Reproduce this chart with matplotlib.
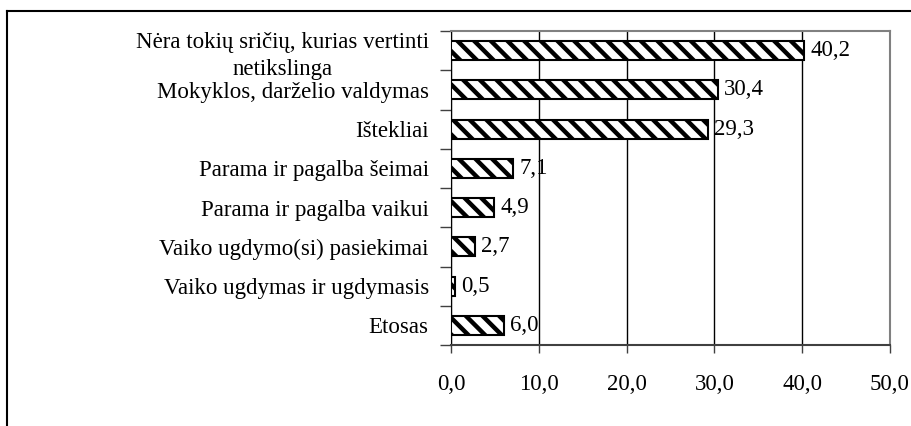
import matplotlib.pyplot as plt
from matplotlib.lines import Line2D
from matplotlib.ticker import FixedLocator
import numpy as np

plt.rcParams['font.family'] = ['Liberation Serif', 'DejaVu Serif']
plt.rcParams['hatch.linewidth'] = 3.2
plt.rcParams['hatch.color'] = 'black'

categories = [
    "Nėra tokių sričių, kurias vertinti\nnetikslinga",
    "Mokyklos, darželio valdymas",
    "Ištekliai",
    "Parama ir pagalba šeimai",
    "Parama ir pagalba vaikui",
    "Vaiko ugdymo(si) pasiekimai",
    "Vaiko ugdymas ir ugdymasis",
    "Etosas",
]
values = [40.2, 30.4, 29.3, 7.1, 4.9, 2.7, 0.5, 6.0]
xticks = [0, 10, 20, 30, 40, 50]

FS = 16.5

fig = plt.figure(figsize=(9.12, 4.26), dpi=100)
ax = fig.add_axes([451 / 912, 1 - 345 / 426, (890 - 451) / 912, (345 - 31) / 426])

y = np.arange(len(categories))
ax.barh(y, values, height=0.48, color='white', edgecolor='black',
        linewidth=1.5, hatch='\\\\', zorder=3)

for yi, v in zip(y, values):
    ax.text(v + 0.7, yi, f"{v:.1f}".replace('.', ','), va='center', ha='left',
            fontsize=FS, zorder=4)

ax.set_xlim(0, 50)
ax.set_ylim(len(categories) - 0.5, -0.5)

ax.set_xticks(xticks)
ax.set_xticklabels([f"{t:.1f}".replace('.', ',') for t in xticks], fontsize=FS)
ax.tick_params(axis='x', direction='out', length=6, width=1, pad=15, color='#404040')

ax.yaxis.set_major_locator(FixedLocator(y))
ax.set_yticklabels(categories, fontsize=FS, linespacing=1.35)
for lbl in ax.get_yticklabels():
    lbl.set_multialignment('center')
ax.tick_params(axis='y', which='major', length=0, pad=16)
ax.yaxis.set_minor_locator(FixedLocator(np.arange(-0.5, len(categories), 1.0)))
ax.tick_params(axis='y', which='minor', direction='out', length=8, width=1, color='#404040')

ax.grid(axis='x', color='black', linewidth=1, zorder=0)
ax.spines['left'].set_color('black')
ax.spines['bottom'].set_color('#404040')
ax.spines['bottom'].set_linewidth(1.5)
ax.spines['top'].set_color('#808080')
ax.spines['right'].set_color('#808080')
ax.spines['top'].set_linewidth(1.5)
ax.spines['right'].set_linewidth(1.5)

# outer frame (only left and top visible)
fig.add_artist(Line2D([7 / 912, 7 / 912], [0, 1 - 11 / 426], color='black', linewidth=1.5))
fig.add_artist(Line2D([7 / 912, 1], [1 - 11 / 426, 1 - 11 / 426], color='black', linewidth=1.5))

fig.savefig("out.png", dpi=100)
